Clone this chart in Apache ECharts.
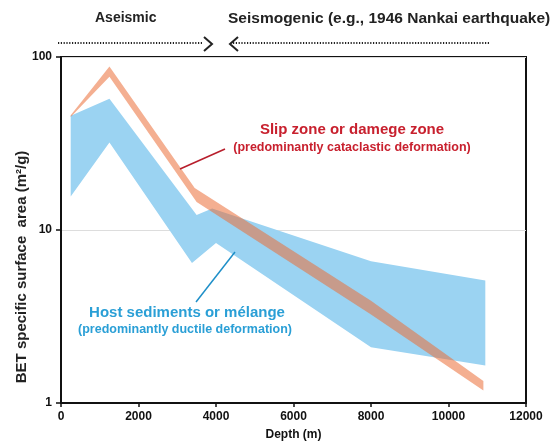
<!DOCTYPE html>
<html>
<head>
<meta charset="utf-8">
<script src="https://cdn.jsdelivr.net/npm/echarts@6/dist/echarts.min.js"></script>
<style>html,body{margin:0;padding:0;background:#fff}#c{width:556px;height:446px}</style>
</head>
<body>
<div id="c"></div>
<script>
// Host sediments / mélange band (depth m, BET m2/g)
var hostUpperDepth = [250, 1250, 3500, 3900, 8000, 10950];
var hostUpperValue = [45.7, 57.4, 12.2, 13.3, 6.6, 5.1];
var hostLowerDepth = [250, 1250, 3380, 4000, 8000, 10950];
var hostLowerValue = [15.6, 32, 6.45, 8.4, 2.1, 1.65];
// Slip zone / damage zone band
var slipUpperDepth = [250, 1250, 3450, 8000, 10900];
var slipUpperValue = [46, 88, 17.5, 3.9, 1.34];
var slipLowerDepth = [250, 1250, 3500, 8000, 10900];
var slipLowerValue = [45, 77, 14.5, 3.25, 1.18];
var xTicks = [0, 2000, 4000, 6000, 8000, 10000, 12000];
var yTicks = [1, 10, 100];

var FONT = 'Liberation Sans, Arial, sans-serif';

function bandSeries(ud, uv, ld, lv, color, z) {
  return {
    type: 'custom',
    z: z,
    clip: true,
    data: [0],
    renderItem: function (params, api) {
      var pts = [];
      for (var i = 0; i < ud.length; i++) pts.push(api.coord([ud[i], uv[i]]));
      for (var j = ld.length - 1; j >= 0; j--) pts.push(api.coord([ld[j], lv[j]]));
      return { type: 'polygon', shape: { points: pts }, style: { fill: color } };
    }
  };
}

var chart = echarts.init(document.getElementById('c'));
chart.setOption({
  animation: false,
  grid: { left: 61, right: 30, top: 57, bottom: 40, show: true, borderColor: '#111', borderWidth: 2, backgroundColor: 'transparent' },
  xAxis: {
    type: 'value', min: 0, max: 12000, interval: 2000,
    axisLine: { lineStyle: { color: '#111', width: 2 } },
    axisTick: { show: true, length: 4, lineStyle: { color: '#111', width: 1.5 } },
    splitLine: { show: false },
    axisLabel: { color: '#111', fontWeight: 'bold', fontSize: 12, fontFamily: FONT, margin: 8,
      formatter: function (v) { return xTicks.indexOf(v) >= 0 ? String(v) : ''; } },
    name: 'Depth (m)', nameLocation: 'middle', nameGap: 26,
    nameTextStyle: { color: '#111', fontWeight: 'bold', fontSize: 12, fontFamily: FONT }
  },
  yAxis: {
    type: 'log', logBase: 10, min: 1, max: 100,
    axisLine: { show: true, lineStyle: { color: '#111', width: 2 } },
    axisTick: { show: true, length: 5, lineStyle: { color: '#111', width: 1.5 } },
    minorTick: { show: false },
    splitLine: { show: true, lineStyle: { color: '#ddd', width: 1 } },
    axisLabel: { color: '#111', fontWeight: 'bold', fontSize: 12, fontFamily: FONT, margin: 9,
      formatter: function (v) { return yTicks.indexOf(Math.round(v)) >= 0 ? String(Math.round(v)) : ''; } }
  },
  series: [
    bandSeries(hostUpperDepth, hostUpperValue, hostLowerDepth, hostLowerValue, '#9BD3F2', 2),
    bandSeries(slipUpperDepth, slipUpperValue, slipLowerDepth, slipLowerValue, 'rgba(235,110,55,0.55)', 3)
  ],
  graphic: [
    { type: 'text', left: 95, top: 11, style: { text: 'Aseismic', font: 'bold 14px ' + FONT, fill: '#222' } },
    { type: 'text', left: 228, top: 11, style: { text: 'Seismogenic (e.g., 1946 Nankai earthquake)', font: 'bold 15.5px ' + FONT, fill: '#222' } },
    { type: 'line', shape: { x1: 58, y1: 43, x2: 203, y2: 43 }, style: { stroke: '#222', lineWidth: 2, lineDash: [1.2, 1.6] } },
    { type: 'polyline', shape: { points: [[204, 37], [212, 44], [204, 51]] }, style: { stroke: '#222', lineWidth: 2, fill: null } },
    { type: 'polyline', shape: { points: [[238, 37], [230, 44], [238, 51]] }, style: { stroke: '#222', lineWidth: 2, fill: null } },
    { type: 'line', shape: { x1: 233, y1: 43, x2: 490, y2: 43 }, style: { stroke: '#222', lineWidth: 2, lineDash: [1.2, 1.6] } },
    { type: 'text', rotation: Math.PI / 2, x: 22, y: 267, style: { text: 'BET specific surface  area (m\u00b2/g)', font: 'bold 15px ' + FONT, fill: '#222', align: 'center', verticalAlign: 'middle' } },
    { type: 'text', x: 352, y: 130, z: 10, style: { text: 'Slip zone or damege zone', font: 'bold 15px ' + FONT, fill: '#C8202E', align: 'center', verticalAlign: 'middle' } },
    { type: 'text', x: 352, y: 148, z: 10, style: { text: '(predominantly cataclastic deformation)', font: 'bold 12.5px ' + FONT, fill: '#C8202E', align: 'center', verticalAlign: 'middle' } },
    { type: 'line', z: 10, shape: { x1: 180, y1: 169, x2: 225, y2: 149 }, style: { stroke: '#B81E2C', lineWidth: 1.5 } },
    { type: 'text', x: 187, y: 313, z: 10, style: { text: 'Host sediments or m\u00e9lange', font: 'bold 15px ' + FONT, fill: '#2A9FD6', align: 'center', verticalAlign: 'middle' } },
    { type: 'text', x: 185, y: 330, z: 10, style: { text: '(predominantly ductile deformation)', font: 'bold 12.5px ' + FONT, fill: '#2A9FD6', align: 'center', verticalAlign: 'middle' } },
    { type: 'line', z: 10, shape: { x1: 235, y1: 252, x2: 196, y2: 302 }, style: { stroke: '#1E8FC8', lineWidth: 1.5 } }
  ]
});
</script>
</body>
</html>
